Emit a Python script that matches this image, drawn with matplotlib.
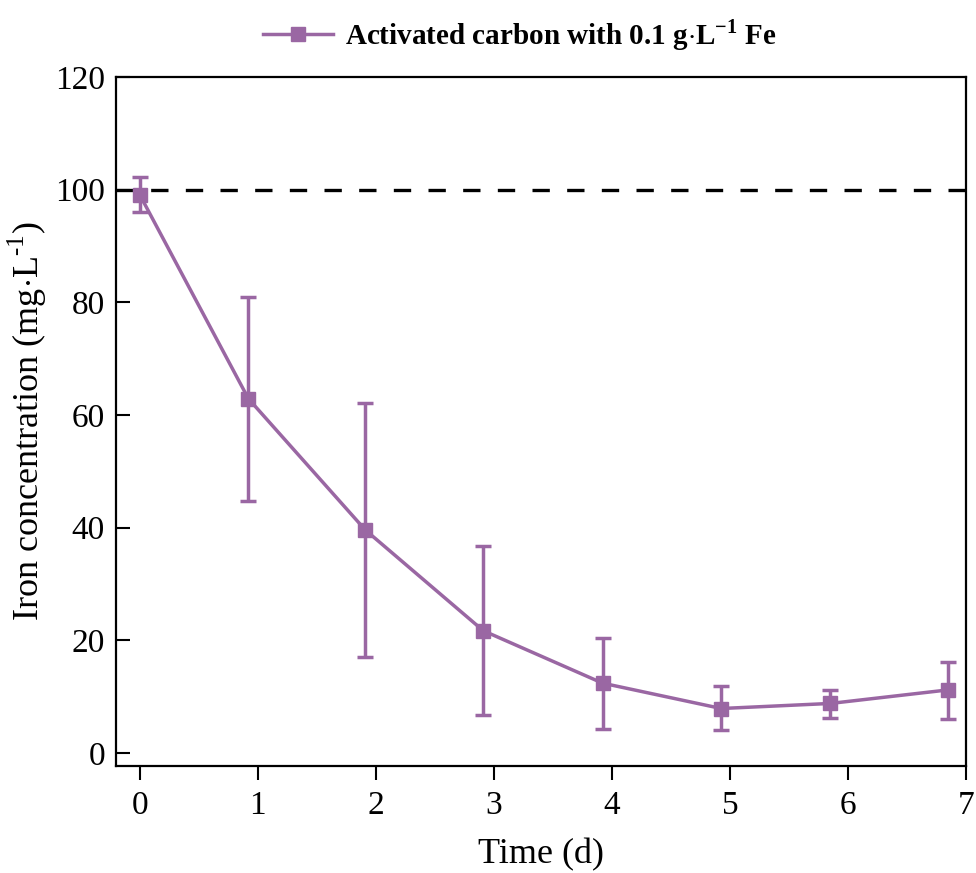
import numpy as np
import matplotlib
matplotlib.use("Agg")
import matplotlib.pyplot as plt

plt.rcParams['font.family'] = ['Liberation Serif', 'DejaVu Serif']
plt.rcParams['mathtext.fontset'] = 'custom'
plt.rcParams['mathtext.rm'] = 'Liberation Serif'
plt.rcParams['mathtext.bf'] = 'Liberation Serif:bold'

# data
time_d = [0, 0.92, 1.91, 2.91, 3.92, 4.925, 5.85, 6.845]
iron = [99.1, 62.9, 39.6, 21.7, 12.4, 7.9, 8.8, 11.2]
err_top = [102.3, 80.9, 62.2, 36.8, 20.5, 11.9, 11.2, 16.2]
err_bottom = [96.1, 44.8, 17.0, 6.75, 4.3, 4.1, 6.2, 6.0]
reference_level = 100

purple = '#9A67A3'

iron = np.array(iron)
yerr = [iron - np.array(err_bottom), np.array(err_top) - iron]

fig = plt.figure(figsize=(9.76, 8.73), dpi=100)
ax = fig.add_axes([0.119, 0.1226, 0.871, 0.7892])

ax.axhline(reference_level, color='black', lw=2.4, dashes=(5.2, 5.2), zorder=1)
ax.errorbar(time_d, iron, yerr=yerr, fmt='none', ecolor=purple,
            capsize=5.5, capthick=2.5, elinewidth=2.5, zorder=2)
ax.plot(time_d, iron, color=purple, lw=2.5, marker='s', ms=10.5, zorder=3,
        label=r'Activated carbon with 0.1 g$\cdot$L$^{\mathbf{-1}}$ Fe')

ax.set_xlim(-0.2, 7)
ax.set_ylim(-2.3, 120)
ax.set_xticks(range(0, 8))
ax.set_yticks(range(0, 121, 20))

ax.tick_params(axis='x', direction='out', length=10, width=1.5, labelsize=24, pad=8)
ax.tick_params(axis='y', direction='in', length=10, width=1.5, labelsize=24, pad=8)
for s in ax.spines.values():
    s.set_linewidth(1.6)

ax.set_xlabel('Time (d)', fontsize=26, labelpad=12)
ax.set_ylabel(r'Iron concentration (mg$\cdot$L$^{\text{-1}}$)', fontsize=26, labelpad=4)

fig.legend(loc='center', bbox_to_anchor=(0.533, 0.96), frameon=False,
           prop={'weight': 'bold', 'size': 21}, handlelength=2.4, handletextpad=0.4)

fig.savefig('out.png', dpi=100)
